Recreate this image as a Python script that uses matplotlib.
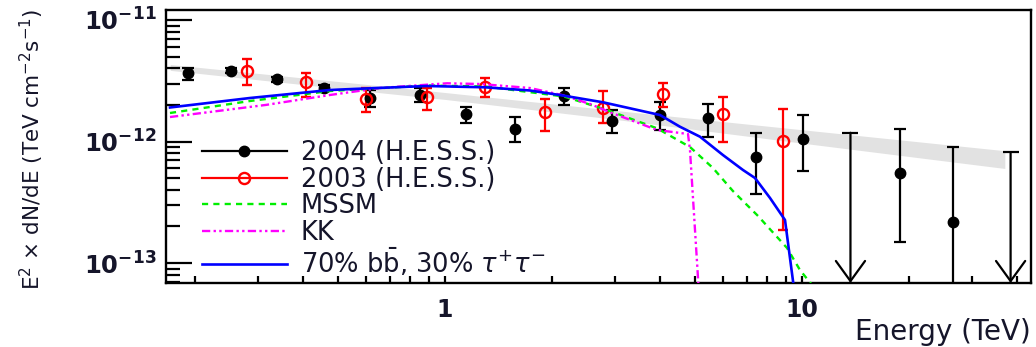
import numpy as np
import matplotlib
matplotlib.use("Agg")
import matplotlib.pyplot as plt
from matplotlib.lines import Line2D
from matplotlib.ticker import NullFormatter

plt.rcParams['font.family'] = ['DejaVu Sans']
plt.rcParams['mathtext.fontset'] = 'dejavusans'

# H.E.S.S. 2004 spectrum points (E in TeV, E^2 dN/dE in TeV cm^-2 s^-1)
e_2004 = [0.191, 0.252, 0.338, 0.457, 0.617, 0.851, 1.145, 1.571, 2.154,
          2.94, 4.00, 5.45, 7.41, 10.06, 18.8, 26.4]
f_2004 = [3.64e-12, 3.83e-12, 3.25e-12, 2.77e-12, 2.29e-12, 2.42e-12, 1.67e-12,
          1.26e-12, 2.38e-12, 1.48e-12, 1.65e-12, 1.55e-12, 7.41e-13, 1.045e-12,
          5.53e-13, 2.19e-13]
f_2004_hi = [4.05e-12, 3.99e-12, 3.41e-12, 2.93e-12, 2.65e-12, 2.76e-12, 1.92e-12,
             1.59e-12, 2.76e-12, 1.82e-12, 2.11e-12, 2.04e-12, 1.17e-12, 1.65e-12,
             1.27e-12, 8.96e-13]
f_2004_lo = [3.21e-12, 3.66e-12, 3.10e-12, 2.62e-12, 1.92e-12, 2.11e-12, 1.42e-12,
             0.99e-12, 2.00e-12, 1.17e-12, 1.25e-12, 1.09e-12, 3.70e-13, 5.75e-13,
             1.50e-13, 1.0e-14]
# 2004 upper limits
e_2004_ul = [13.67, 38.4]
f_2004_ul = [1.18e-12, 8.15e-13]

# H.E.S.S. 2003 points
e_2003 = [0.278, 0.409, 0.601, 0.889, 1.294, 1.906, 2.776, 4.09, 6.02, 8.86]
f_2003 = [3.83e-12, 3.07e-12, 2.24e-12, 2.31e-12, 2.82e-12, 1.74e-12, 1.90e-12,
          2.46e-12, 1.67e-12, 1.01e-12]
f_2003_hi = [4.75e-12, 3.64e-12, 2.73e-12, 2.77e-12, 3.31e-12, 2.24e-12, 2.60e-12,
             3.05e-12, 2.34e-12, 1.85e-12]
f_2003_lo = [2.92e-12, 2.34e-12, 1.75e-12, 1.82e-12, 2.34e-12, 1.22e-12, 1.41e-12,
             1.93e-12, 0.996e-12, 1.87e-13]

# power-law fit band
e_band = [0.17, 0.5, 1.0, 3.0, 10.0, 37.0]
f_band_hi = [4.30e-12, 3.12e-12, 2.53e-12, 1.80e-12, 1.25e-12, 8.40e-13]
f_band_lo = [3.85e-12, 2.74e-12, 2.22e-12, 1.52e-12, 9.7e-13, 6.0e-13]

# dark matter annihilation spectra
e_mssm = [0.1697, 0.2843, 0.4763, 0.890, 1.294, 2.154, 2.843, 3.925, 4.856,
          5.632, 6.407, 7.53, 9.08, 9.87, 10.67]
f_mssm = [1.716e-12, 2.154e-12, 2.603e-12, 2.89e-12, 2.836e-12, 2.347e-12,
          1.816e-12, 1.284e-12, 9.01e-13, 6.05e-13, 3.91e-13, 2.44e-13,
          1.33e-13, 8.76e-14, 6.59e-14]

e_kk = [0.1697, 0.3151, 0.4763, 0.6575, 1.013, 1.253, 1.730, 2.154, 2.548,
        2.936, 3.925, 4.794, 4.856, 5.124, 5.147]
f_kk = [1.59e-12, 2.0e-12, 2.414e-12, 2.756e-12, 3.013e-12, 2.973e-12,
        2.756e-12, 2.391e-12, 2.035e-12, 1.716e-12, 1.244e-12, 1.153e-12,
        8.51e-13, 6.85e-14, 4.96e-14]

e_bbtau = [0.1697, 0.2843, 0.4763, 0.6166, 0.890, 1.294, 1.730, 2.154, 2.771,
           4.002, 4.552, 5.180, 6.006, 6.834, 7.384, 8.136, 8.962, 9.59]
f_bbtau = [1.905e-12, 2.28e-12, 2.654e-12, 2.741e-12, 2.862e-12, 2.793e-12,
           2.629e-12, 2.382e-12, 2.102e-12, 1.652e-12, 1.323e-12, 1.095e-12,
           7.74e-13, 5.83e-13, 5.01e-13, 3.43e-13, 2.26e-13, 4.96e-14]

txt = '#15152a'

fig = plt.figure(figsize=(10.36, 3.47), dpi=100)
ax = fig.add_axes([166 / 1036, 1 - 283 / 347, 865 / 1036, 273 / 347])
ax.set_xscale('log')
ax.set_yscale('log')
ax.set_xlim(0.1654, 43.8)
ax.set_ylim(6.85e-14, 1.208e-11)

ax.fill_between(e_band, f_band_lo, f_band_hi, color='#e2e2e2', lw=0, zorder=1)

f04 = np.array(f_2004)
ax.errorbar(e_2004, f04, yerr=[f04 - np.array(f_2004_lo), np.array(f_2004_hi) - f04],
            fmt='o', color='black', ms=7.5, elinewidth=1.6, capsize=4.3,
            capthick=1.6, zorder=3)
f03 = np.array(f_2003)
ax.errorbar(e_2003, f03, yerr=[f03 - np.array(f_2003_lo), np.array(f_2003_hi) - f03],
            fmt='o', color='red', mfc='none', mec='red', mew=1.7, ms=8,
            elinewidth=1.6, capsize=3.8, capthick=1.6, zorder=3)

# upper limits: cap on top, open arrow down to the axis floor
ymin = ax.get_ylim()[0]
ax.plot(e_2004_ul, f_2004_ul, ls='none', marker='_', ms=11, mew=1.6,
        color='black', zorder=3)
for e, ul in zip(e_2004_ul, f_2004_ul):
    ax.annotate('', xy=(e, ymin), xytext=(e, ul),
                arrowprops=dict(arrowstyle='->,head_length=1.45,head_width=1.05',
                                lw=1.6, color='black', shrinkA=0, shrinkB=0,
                                mutation_scale=10), zorder=3)

ax.plot(e_mssm, f_mssm, color='#00ee00', lw=1.7, dashes=(2.6, 2.2), zorder=4)
ax.plot(e_kk, f_kk, color='#ff00ff', lw=1.7, dashes=(3.5, 1.4, 1, 1.4, 1, 1.4), zorder=4)
ax.plot(e_bbtau, f_bbtau, color='#0000ff', lw=1.9, zorder=4)

for s in ax.spines.values():
    s.set_linewidth(1.7)
ax.tick_params(which='both', direction='in', top=False, right=False, width=1.6,
               colors='black')
ax.tick_params(axis='y', which='major', length=19, pad=7)
ax.tick_params(axis='y', which='minor', length=10)
ax.tick_params(axis='x', which='both', length=5, pad=11)

ax.set_xticks([1, 10])
ax.set_xticklabels(['1', '10'], fontsize=17, fontweight='bold', color=txt)
ax.xaxis.set_minor_formatter(NullFormatter())
ax.set_yticks([1e-13, 1e-12, 1e-11])
ax.set_yticklabels([r'$\mathbf{10}^{\mathbf{-13}}$', r'$\mathbf{10}^{\mathbf{-12}}$',
                    r'$\mathbf{10}^{\mathbf{-11}}$'], fontsize=17.5, color=txt)
ax.yaxis.set_minor_formatter(NullFormatter())

fig.text(32 / 1036, 1 - 149 / 347,
         r'E$^{2}$ $\times$ dN/dE (TeV cm$^{-2}$s$^{-1}$)',
         rotation=90, ha='center', va='center', fontsize=15.5, color=txt)
fig.text(1031 / 1036, 1 - 340 / 347, 'Energy (TeV)', ha='right', va='baseline',
         fontsize=20, color=txt)

handles = [
    Line2D([], [], color='black', lw=1.6, marker='o', ms=7.5),
    Line2D([], [], color='red', lw=1.6, marker='o', mfc='none', mec='red', mew=1.7, ms=8),
    Line2D([], [], color='#00ee00', lw=1.7, dashes=(2.6, 2.2)),
    Line2D([], [], color='#ff00ff', lw=1.7, dashes=(3.5, 1.4, 1, 1.4, 1, 1.4)),
    Line2D([], [], color='#0000ff', lw=1.9),
]
labels = ['2004 (H.E.S.S.)', '2003 (H.E.S.S.)', 'MSSM', 'KK',
          r'70% b$\bar{\mathrm{b}}$, 30% $\tau^{+}\tau^{-}$']
leg = fig.legend(handles, labels, loc='upper left',
                 bbox_to_anchor=(194 / 1036, 1 - 132.5 / 347),
                 frameon=False, fontsize=18.5, handlelength=3.3, handletextpad=0.55,
                 labelspacing=0.02, borderpad=0.3, borderaxespad=0)
for t in leg.get_texts():
    t.set_color(txt)

fig.savefig('out.png', dpi=100)
